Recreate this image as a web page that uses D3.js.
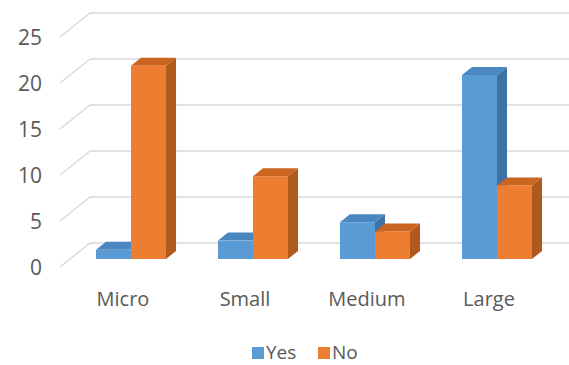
<!DOCTYPE html>
<html>
<head>
<meta charset="utf-8">
<script src="https://cdn.jsdelivr.net/npm/d3@7/dist/d3.min.js"></script>
<style>
html,body{margin:0;padding:0;background:#fff;}
svg{display:block;}
text{font-family:"Open Sans",sans-serif;fill:#595959;}
</style>
</head>
<body>
<svg id="chart" width="569" height="365"></svg>
<script>
const categories = ["Micro", "Small", "Medium", "Large"];
const seriesNames = ["Yes", "No"];
const yesValues = [1, 2, 4, 20];
const noValues = [21, 9, 3, 8];
const yTicks = [0, 5, 10, 15, 20, 25];
const colors = {
  Yes: {front: "#5b9bd5", top: "#4a86bf", side: "#3d72a6"},
  No:  {front: "#ed7d31", top: "#c9651f", side: "#b0591c"}
};

const svg = d3.select("#chart");
const depthX = 30, depthY = -24; // full floor depth offset
const frontLeft = 60, frontRight = 548;

const y = d3.scaleLinear().domain([0, 25]).range([267, 37]);
const x = d3.scaleBand().domain(categories).range([frontLeft, frontRight])
  .paddingInner(0.426).paddingOuter(0.213);
const xs = d3.scaleBand().domain(seriesNames).range([0, x.bandwidth()]);

// gridlines
const grid = svg.append("g");
yTicks.forEach(t => {
  grid.append("line")
    .attr("x1", frontLeft).attr("y1", y(t))
    .attr("x2", frontLeft + depthX).attr("y2", y(t) + depthY)
    .attr("stroke", "#d9d9d9").attr("stroke-width", 1.5);
  grid.append("line")
    .attr("x1", frontLeft + depthX).attr("y1", y(t) + depthY)
    .attr("x2", 569).attr("y2", y(t) + depthY)
    .attr("stroke", "#d9d9d9").attr("stroke-width", 1.5);
});

// y labels
svg.append("g").selectAll("text").data(yTicks).join("text")
  .attr("x", 42).attr("y", d => y(d))
  .attr("text-anchor", "end").attr("dominant-baseline", "central")
  .attr("font-size", 21)
  .text(d => d);

// bars
const data = [];
categories.forEach((c, i) => {
  data.push({cat: c, s: "Yes", v: yesValues[i]});
  data.push({cat: c, s: "No", v: noValues[i]});
});
const dx1 = depthX / 3, dy1 = depthY / 3; // bar front offset
const dx2 = 2 * depthX / 3, dy2 = 2 * depthY / 3; // bar back offset
const bars = svg.append("g");
data.forEach(d => {
  const x0 = x(d.cat) + xs(d.s);
  const w = xs.bandwidth();
  const yv = y(d.v), yb = y(0);
  const c = colors[d.s];
  const g = bars.append("g");
  // side
  g.append("polygon")
    .attr("points", [[x0 + w + dx1, yv + dy1], [x0 + w + dx2, yv + dy2], [x0 + w + dx2, yb + dy2], [x0 + w + dx1, yb + dy1]].map(p => p.join(",")).join(" "))
    .attr("fill", c.side);
  // top
  g.append("polygon")
    .attr("points", [[x0 + dx1, yv + dy1], [x0 + w + dx1, yv + dy1], [x0 + w + dx2, yv + dy2], [x0 + dx2, yv + dy2]].map(p => p.join(",")).join(" "))
    .attr("fill", c.top);
  // front
  g.append("rect")
    .attr("x", x0 + dx1).attr("y", yv + dy1)
    .attr("width", w).attr("height", yb - yv)
    .attr("fill", c.front);
});

// x labels
svg.append("g").selectAll("text").data(categories).join("text")
  .attr("x", d => x(d) + x.bandwidth() / 2 + 2)
  .attr("y", 306)
  .attr("text-anchor", "middle")
  .attr("font-size", 20)
  .text(d => d);

// legend
const legend = svg.append("g");
const legendItems = [{name: "Yes", x: 252}, {name: "No", x: 318}];
legendItems.forEach(it => {
  legend.append("rect").attr("x", it.x).attr("y", 347).attr("width", 12).attr("height", 12)
    .attr("fill", colors[it.name].front);
  legend.append("text").attr("x", it.x + 14).attr("y", 359)
    .attr("font-size", 19).text(it.name);
});
</script>
</body>
</html>
